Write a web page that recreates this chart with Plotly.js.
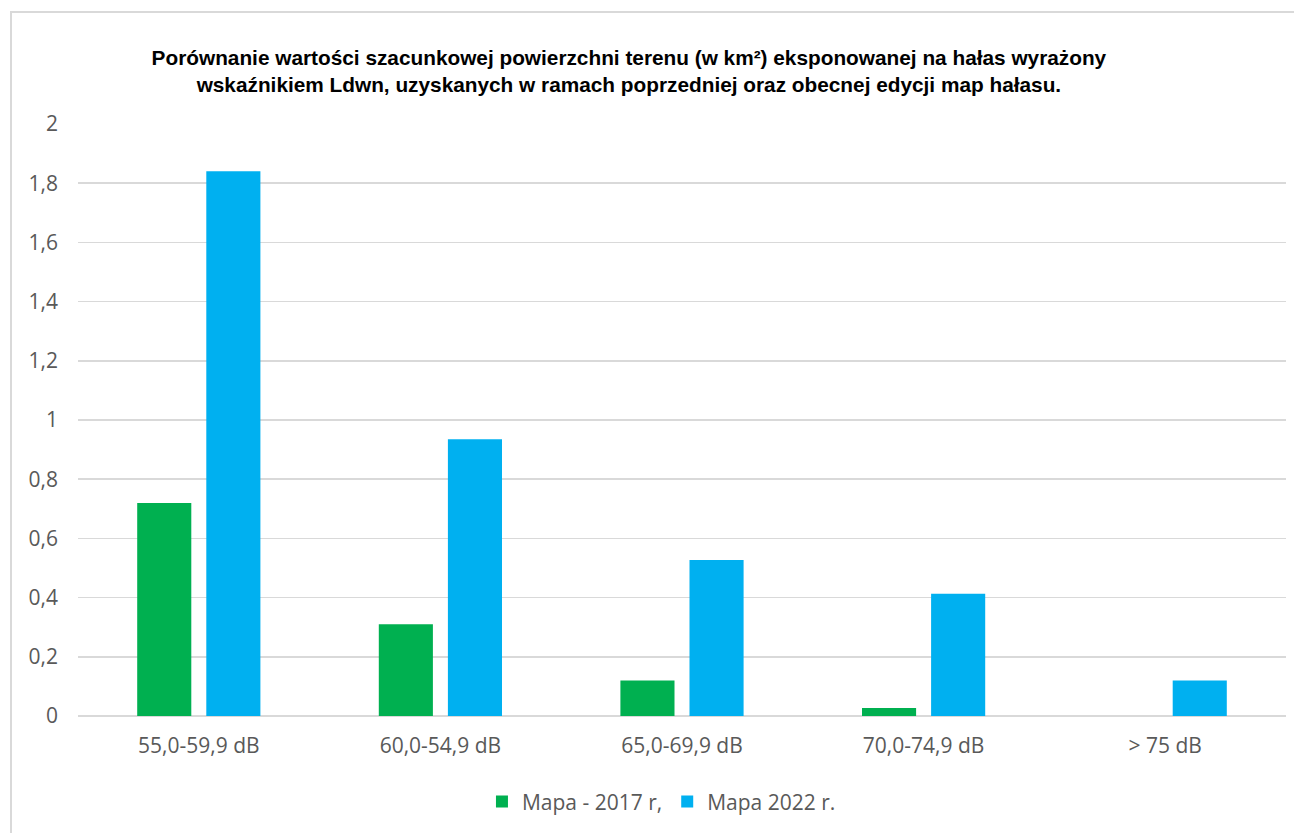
<!DOCTYPE html>
<html>
<head>
<meta charset="utf-8">
<script src="https://cdn.plot.ly/plotly-3.0.1.min.js"></script>
<style>
  html, body { margin: 0; padding: 0; background: #fff; overflow: hidden; }
  #frame { position: absolute; left: 10px; top: 11px; width: 1300px; height: 840px; border: 2px solid #d9d9d9; box-sizing: border-box; }
  #chart { position: absolute; left: 0; top: 0; width: 1294px; height: 833px; }
</style>
</head>
<body>
<div id="frame"></div>
<div id="chart"></div>
<script>
// Noise level bands (Ldwn)
const categories = ['55,0-59,9 dB', '60,0-54,9 dB', '65,0-69,9 dB', '70,0-74,9 dB', '> 75 dB'];
// Exposed area in km² per edition of the noise map
const map2017 = [0.72, 0.31, 0.12, 0.027, 0];
const map2022 = [1.84, 0.935, 0.527, 0.413, 0.12];
const seriesNames = ['Mapa - 2017 r,', 'Mapa 2022 r.'];
const yTicks = [0, 0.2, 0.4, 0.6, 0.8, 1, 1.2, 1.4, 1.6, 1.8, 2];

const tickFont = { family: 'Open Sans, sans-serif', size: 21, color: '#595959' };

const traces = [
  { type: 'bar', name: seriesNames[0], x: categories, y: map2017,
    marker: { color: '#00b050' }, hoverinfo: 'x+y' },
  { type: 'bar', name: seriesNames[1], x: categories, y: map2022,
    marker: { color: '#00b0f0' }, hoverinfo: 'x+y' }
];

const layout = {
  width: 1294, height: 833,
  paper_bgcolor: 'rgba(0,0,0,0)', plot_bgcolor: 'rgba(0,0,0,0)',
  separators: ', ',
  margin: { l: 78, r: 8, t: 124, b: 117 },
  barmode: 'group', bargap: 0.428, bargroupgap: 0.217,
  title: {
    text: '<b>Porównanie wartości szacunkowej powierzchni terenu (w km²) eksponowanej na hałas wyrażony<br>wskaźnikiem Ldwn, uzyskanych w ramach poprzedniej oraz obecnej edycji map hałasu.</b>',
    font: { family: 'Liberation Sans, Arial, sans-serif', size: 20.8, color: '#000' },
    x: 0.486, xanchor: 'center', y: 0.922, yanchor: 'middle'
  },
  xaxis: {
    showgrid: false, zeroline: false, showline: false,
    tickfont: tickFont, ticks: '', ticklabelstandoff: 15
  },
  yaxis: {
    range: [0, 2], tickvals: yTicks, tickformat: '.1~f',
    showgrid: true, gridcolor: '#d9d9d9', gridwidth: 1.5,
    zeroline: true, zerolinecolor: '#d9d9d9', zerolinewidth: 1.5,
    showline: false, ticks: '', tickfont: tickFont, ticklabelstandoff: 19
  },
  showlegend: true,
  legend: {
    orientation: 'h', x: 0.483, xanchor: 'center', y: -0.145, yanchor: 'middle',
    font: tickFont, itemwidth: 30, traceorder: 'normal'
  }
};

Plotly.newPlot('chart', traces, layout, { staticPlot: true, displayModeBar: false });
</script>
</body>
</html>
